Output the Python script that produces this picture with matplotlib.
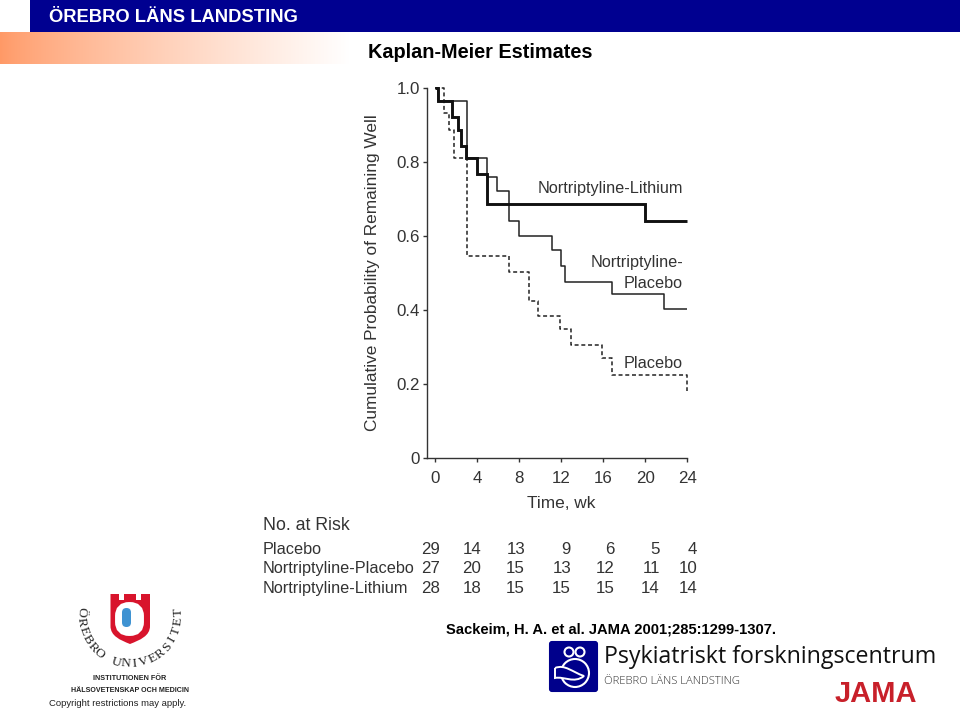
import numpy as np
import matplotlib
matplotlib.use("Agg")
import matplotlib.pyplot as plt
from matplotlib.patches import Rectangle, FancyBboxPatch, Circle, PathPatch
from matplotlib.path import Path

plt.rcParams['font.family'] = ['Liberation Sans', 'DejaVu Sans']

# -- Data --
lith_t = [0, 0.25, 1.65, 2.2, 2.45, 2.95, 4.03, 4.9, 20.0, 24]
lith_s = [1.0, 0.964, 0.922, 0.885, 0.843, 0.809, 0.767, 0.686, 0.639, 0.639]

nort_t = [0, 0.25, 3.07, 4.9, 5.87, 7.04, 8.0, 11.1, 12.0, 12.4, 16.87, 21.8, 24]
nort_s = [1.0, 0.964, 0.809, 0.76, 0.722, 0.639, 0.601, 0.561, 0.519, 0.476, 0.443, 0.402, 0.402]

plac_t = [0, 0.8, 1.36, 1.84, 3.07, 7.04, 8.94, 9.83, 11.9, 12.9, 15.9, 16.87, 24]
plac_s = [1.0, 0.931, 0.886, 0.809, 0.545, 0.504, 0.425, 0.385, 0.348, 0.306, 0.271, 0.226, 0.182]

x_ticks = [0, 4, 8, 12, 16, 20, 24]
y_ticks = [0, 0.2, 0.4, 0.6, 0.8, 1.0]
y_tick_labels = ["0", "0.2", "0.4", "0.6", "0.8", "1.0"]

risk_names = ["Placebo", "Nortriptyline-Placebo", "Nortriptyline-Lithium"]
risk_placebo = [29, 14, 13, 9, 6, 5, 4]
risk_nort = [27, 20, 15, 13, 12, 11, 10]
risk_lith = [28, 18, 15, 15, 15, 14, 14]

W, H = 960, 709
ink = "#333333"

fig = plt.figure(figsize=(W / 100, H / 100), dpi=100, facecolor="white")

# -- Page furniture, in pixel coordinates --
bg = fig.add_axes([0, 0, 1, 1])
fade = np.linspace(0, 1, 256) ** 0.8
grad = np.ones((1, 256, 3))
grad[0, :, 0] = 1.0
grad[0, :, 1] = 0.6 + 0.4 * fade
grad[0, :, 2] = 0.4 + 0.6 * fade
bg.imshow(grad, extent=[0, 350, 64, 32], aspect="auto", interpolation="bilinear")
bg.add_patch(Rectangle((30, 0), 930, 32, color="#000090", lw=0))
bg.set_xlim(0, W)
bg.set_ylim(H, 0)
bg.axis("off")

bg.text(49, 17, "ÖREBRO LÄNS LANDSTING", color="white", fontsize=13.2, fontweight="bold", va="center")
bg.text(368, 53, "Kaplan-Meier Estimates", color="black", fontsize=14.35, fontweight="bold", va="center")
bg.text(446, 629, "Sackeim, H. A. et al. JAMA 2001;285:1299-1307.", color="black", fontsize=10.6,
        fontweight="bold", va="center")

# -- Orebro university emblem --
M, L, C = Path.MOVETO, Path.LINETO, Path.CURVE4
shield = Path([(110.5, 594), (119, 594), (119, 600), (124, 600), (124, 594), (136, 594), (136, 600),
               (141, 600), (141, 594), (150, 594), (150, 626), (150, 636), (140, 640), (130, 644),
               (120, 640), (110.5, 636), (110.5, 626), (110.5, 594)],
              [M, L, L, L, L, L, L, L, L, L, L, C, C, C, C, C, C, L])
bg.add_patch(PathPatch(shield, fc="#d8142c", ec="none"))
bg.add_patch(FancyBboxPatch((122, 609), 15, 20, boxstyle="round,pad=0,rounding_size=7", fc="white", ec="white", lw=10))
bg.add_patch(FancyBboxPatch((122, 608), 9, 19, boxstyle="round,pad=0,rounding_size=4.5", fc="#3f93d2", ec="none"))

arc_text = "ÖREBRO UNIVERSITET"
arc_angles = np.linspace(183, -3, len(arc_text))
for ch, a in zip(arc_text, arc_angles):
    px = 130 + 49 * np.cos(np.radians(a))
    py = 615 + 49 * np.sin(np.radians(a))
    bg.text(px, py, ch, family=["Liberation Serif"], fontsize=9.6, color="#222222", ha="center", va="center",
            rotation=90 - a)

bg.text(130, 678, "INSTITUTIONEN FÖR", fontsize=5.2, fontweight="bold", color="#222222", ha="center", va="center")
bg.text(130, 690, "HÄLSOVETENSKAP OCH MEDICIN", fontsize=5.1, fontweight="bold", color="#222222", ha="center", va="center")
bg.text(49, 703.5, "Copyright restrictions may apply.", fontsize=6.8, color="#222222", va="center")

# -- Forskningscentrum logo --
bg.add_patch(FancyBboxPatch((550, 642), 47, 49, boxstyle="round,pad=0,rounding_size=2", fc="#00008b", ec="#00008b", lw=1.5))
for cx, cy, r in [(569, 652, 4.5), (580, 652, 4.5), (575, 673, 14)]:
    bg.add_patch(Circle((cx, cy), r, fc="none", ec="white", lw=1.5))
arm = Path([(555, 668), (565, 664), (572, 672), (584, 676), (574, 684), (564, 676), (555, 678), (555, 668)],
           [M, C, C, C, C, C, C, L])
bg.add_patch(PathPatch(arm, fc="#00008b", ec="white", lw=1.4))
bg.text(604, 657, "Psykiatriskt forskningscentrum", family=["Open Sans"], fontsize=16.7, color="#111111", va="center")
bg.text(604, 682, "ÖREBRO LÄNS LANDSTING", family=["Open Sans"], fontsize=8.1, color="#333333", va="center", fontweight="light")
bg.text(876, 694, "JAMA", fontsize=21, color="#c8202a", fontweight="bold", ha="center", va="center")

# -- Kaplan-Meier axes --
x0, x1 = 426.7, 687.3
y0, y1 = 458.3, 87.7
ax = fig.add_axes([x0 / W, 1 - y0 / H, (x1 - x0) / W, (y0 - y1) / H])
ax.patch.set_alpha(0)
ax.set_xlim(-0.8, 24)
ax.set_ylim(0, 1)

ax.step(plac_t, plac_s, where="post", color="#222222", lw=1.1, ls=(0, (2.6, 1.8)), clip_on=False)
ax.step(nort_t, nort_s, where="post", color="#222222", lw=1.1, clip_on=False, solid_capstyle="butt")
ax.step(lith_t, lith_s, where="post", color="#111111", lw=2.1, clip_on=False, solid_joinstyle="miter", solid_capstyle="butt")

ax.spines["top"].set_visible(False)
ax.spines["right"].set_visible(False)
for side in ["left", "bottom"]:
    ax.spines[side].set_color(ink)
    ax.spines[side].set_linewidth(1.0)
ax.set_xticks(x_ticks)
ax.set_yticks(y_ticks)
ax.set_yticklabels(y_tick_labels)
ax.tick_params(axis="x", colors=ink, labelsize=12.2, length=3, width=1.0, pad=6)
ax.tick_params(axis="y", colors=ink, labelsize=12.2, length=3, width=1.0, pad=2)

# -- Chart text --
bg.text(373, 273, "Cumulative Probability of Remaining Well", color=ink, fontsize=12.4, rotation=90, ha="center", va="center")
bg.text(561.5, 503, "Time, wk", color=ink, fontsize=12.4, ha="center", va="center")
bg.text(683, 188, "Nortriptyline-Lithium", color=ink, fontsize=11.7, ha="right", va="center")
bg.text(683, 263, "Nortriptyline-", color=ink, fontsize=11.7, ha="right", va="center")
bg.text(683, 283, "Placebo", color=ink, fontsize=11.7, ha="right", va="center")
bg.text(683, 363, "Placebo", color=ink, fontsize=11.7, ha="right", va="center")

# -- Number at risk table --
bg.text(263, 525.5, "No. at Risk", color=ink, fontsize=12.8, va="center")
risk_right = [440, 481, 525, 571, 615, 660, 697]
for name, row, ypx in zip(risk_names, [risk_placebo, risk_nort, risk_lith], [554, 573, 593]):
    bg.text(263, ypx, name, color=ink, fontsize=11.7, va="baseline")
    for xr, v in zip(risk_right, row):
        bg.text(xr, ypx, str(v), color=ink, fontsize=12.2, ha="right", va="baseline")

fig.savefig("out.png", dpi=100)
